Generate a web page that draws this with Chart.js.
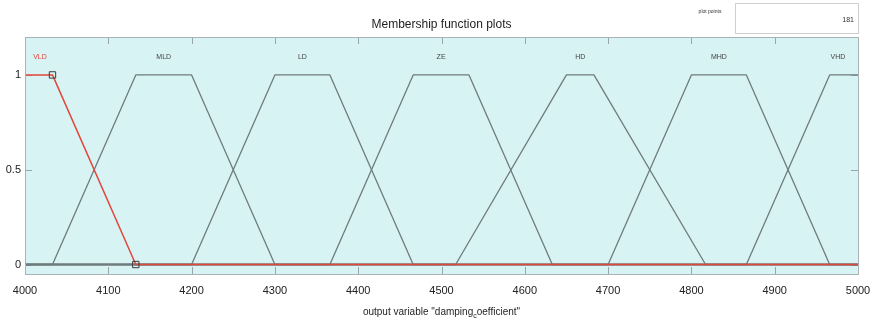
<!DOCTYPE html>
<html>
<head>
<meta charset="utf-8">
<script src="https://cdn.jsdelivr.net/npm/chart.js@4/dist/chart.umd.min.js"></script>
<style>
  html, body { margin: 0; padding: 0; background: #ffffff; }
  #wrap { width: 877px; height: 322px; }
</style>
</head>
<body>
<div id="wrap"><canvas id="mf" width="877" height="322"></canvas></div>
<script>
// Output variable range
const xRange = [4000, 5000];
const xTicks = [4000, 4100, 4200, 4300, 4400, 4500, 4600, 4700, 4800, 4900, 5000];
const yTicks = [0, 0.5, 1];

// Trapezoidal membership functions: [foot-left, shoulder-left, shoulder-right, foot-right]
const mfNames = ['VLD', 'MLD', 'LD', 'ZE', 'HD', 'MHD', 'VHD'];
const VLD = [4000, 4000, 4033, 4133];
const MLD = [4033, 4133, 4200, 4300];
const LD  = [4200, 4300, 4366, 4466];
const ZE  = [4366, 4466, 4533, 4633];
const HD  = [4517, 4650, 4683, 4817];
const MHD = [4700, 4800, 4866, 4966];
const VHD = [4866, 4966, 5000, 5000];
const mfParams = [VLD, MLD, LD, ZE, HD, MHD, VHD];

const plotPoints = 181;
const selected = 0; // VLD is highlighted

const lineGray = '#6f7c7d';
const lineRed = '#e2463c';

// Corner points of a trapezoid, extended to the ends of the range
function trapPoints(p) {
  const pts = [];
  if (p[0] > xRange[0]) pts.push({x: xRange[0], y: 0});
  pts.push({x: p[0], y: p[0] === p[1] ? 1 : 0});
  pts.push({x: p[1], y: 1});
  pts.push({x: p[2], y: 1});
  pts.push({x: p[3], y: p[2] === p[3] ? 1 : 0});
  if (p[3] < xRange[1]) pts.push({x: xRange[1], y: 0});
  return pts;
}

const datasets = [];
// Vertex handles of the selected function
const sel = mfParams[selected];
datasets.push({
  type: 'scatter',
  data: [{x: sel[2], y: 1}, {x: sel[3], y: 0}],
  pointStyle: 'rect',
  pointRadius: 4.5,
  pointBorderWidth: 1,
  pointBackgroundColor: 'rgba(0,0,0,0)',
  pointBorderColor: '#3a3a3a',
  showLine: false
});
datasets.push({
  data: trapPoints(sel),
  borderColor: lineRed,
  borderWidth: 1.5,
  pointRadius: 0,
  borderJoinStyle: 'round'
});
mfParams.forEach((p, i) => {
  if (i === selected) return;
  datasets.push({
    data: trapPoints(p),
    borderColor: lineGray,
    borderWidth: 1.3,
    pointRadius: 0,
    borderJoinStyle: 'round'
  });
});

const decor = {
  id: 'decor',
  beforeDatasetsDraw(chart) {
    const {ctx, chartArea: a, scales} = chart;
    ctx.save();
    ctx.fillStyle = '#d8f3f3';
    ctx.fillRect(a.left, a.top, a.right - a.left, a.bottom - a.top);
    // inward tick marks
    ctx.strokeStyle = '#9aa5a6';
    ctx.lineWidth = 1;
    ctx.beginPath();
    xTicks.forEach(v => {
      const x = Math.round(scales.x.getPixelForValue(v)) + 0.5;
      ctx.moveTo(x, a.top); ctx.lineTo(x, a.top + 7);
      ctx.moveTo(x, a.bottom); ctx.lineTo(x, a.bottom - 7);
    });
    yTicks.forEach(v => {
      const y = Math.round(scales.y.getPixelForValue(v)) + 0.5;
      ctx.moveTo(a.left, y); ctx.lineTo(a.left + 7, y);
      ctx.moveTo(a.right, y); ctx.lineTo(a.right - 7, y);
    });
    ctx.stroke();
    ctx.restore();
  },
  afterDatasetsDraw(chart) {
    const {ctx, chartArea: a, scales} = chart;
    ctx.save();
    // frame
    ctx.strokeStyle = '#a9b3b3';
    ctx.lineWidth = 1;
    ctx.strokeRect(Math.round(a.left) + 0.5, Math.round(a.top) + 0.5,
      Math.round(a.right - a.left), Math.round(a.bottom - a.top));

    // function names above each plateau
    ctx.font = '7px Arial, "Liberation Sans", sans-serif';
    ctx.textAlign = 'center';
    ctx.textBaseline = 'middle';
    mfNames.forEach((name, i) => {
      const p = mfParams[i];
      let cx = scales.x.getPixelForValue((p[1] + p[2]) / 2);
      cx = Math.min(Math.max(cx, a.left + 15), a.right - 20);
      ctx.fillStyle = i === selected ? '#e2463c' : '#444';
      ctx.fillText(name, cx, scales.y.getPixelForValue(1.1) + 1);
    });

    // title
    ctx.fillStyle = '#1e1e1e';
    ctx.font = '12px Arial, "Liberation Sans", sans-serif';
    ctx.textAlign = 'center';
    ctx.fillText('Membership function plots', (a.left + a.right) / 2, 25);

    // plot points box
    ctx.font = '5px Arial, "Liberation Sans", sans-serif';
    ctx.fillStyle = '#333';
    ctx.fillText('plot points', 710, 12);
    ctx.fillStyle = '#ffffff';
    ctx.fillRect(735, 3, 123, 30);
    ctx.strokeStyle = '#cfcfcf';
    ctx.strokeRect(735.5, 3.5, 123, 30);
    ctx.fillStyle = '#333';
    ctx.font = '7px Arial, "Liberation Sans", sans-serif';
    ctx.textAlign = 'right';
    ctx.fillText(String(plotPoints), 854, 20);

    // x-axis title with subscripted "c"
    const main = '10px Arial, "Liberation Sans", sans-serif';
    const sub = '7px Arial, "Liberation Sans", sans-serif';
    const s1 = 'output variable "damping', s2 = 'c', s3 = 'oefficient"';
    ctx.font = main; const w1 = ctx.measureText(s1).width, w3 = ctx.measureText(s3).width;
    ctx.font = sub; const w2 = ctx.measureText(s2).width;
    let x0 = (a.left + a.right) / 2 - (w1 + w2 + w3) / 2;
    const yb = 312;
    ctx.textAlign = 'left';
    ctx.fillStyle = '#1e1e1e';
    ctx.font = main; ctx.fillText(s1, x0, yb);
    ctx.font = sub; ctx.fillText(s2, x0 + w1, yb + 4);
    ctx.font = main; ctx.fillText(s3, x0 + w1 + w2, yb);
    ctx.restore();
  }
};

new Chart(document.getElementById('mf'), {
  type: 'line',
  data: { datasets },
  options: {
    responsive: false,
    animation: false,
    layout: { padding: { top: 37, right: 19, bottom: 0, left: 0 } },
    plugins: { legend: { display: false }, title: { display: false }, tooltip: { enabled: false } },
    scales: {
      x: {
        type: 'linear',
        min: xRange[0], max: xRange[1],
        grid: { display: false, drawTicks: false, tickLength: 0 },
        border: { display: false },
        afterBuildTicks: s => { s.ticks = xTicks.map(v => ({value: v})); },
        afterFit: s => { s.height = 48; s.paddingLeft = 0; s.paddingRight = 0; },
        ticks: {
          padding: 10,
          maxRotation: 0,
          autoSkip: false,
          color: '#222',
          font: { family: 'Arial, "Liberation Sans", sans-serif', size: 11 },
          callback: v => String(v)
        }
      },
      y: {
        type: 'linear',
        min: -0.05, max: 1.2,
        grid: { display: false, drawTicks: false, tickLength: 0 },
        border: { display: false },
        afterBuildTicks: s => { s.ticks = yTicks.map(v => ({value: v})); },
        afterFit: s => { s.width = 25; s.paddingTop = 0; s.paddingBottom = 0; },
        ticks: {
          padding: 4,
          color: '#222',
          font: { family: 'Arial, "Liberation Sans", sans-serif', size: 11 },
          callback: v => String(v)
        }
      }
    }
  },
  plugins: [decor]
});
</script>
</body>
</html>
